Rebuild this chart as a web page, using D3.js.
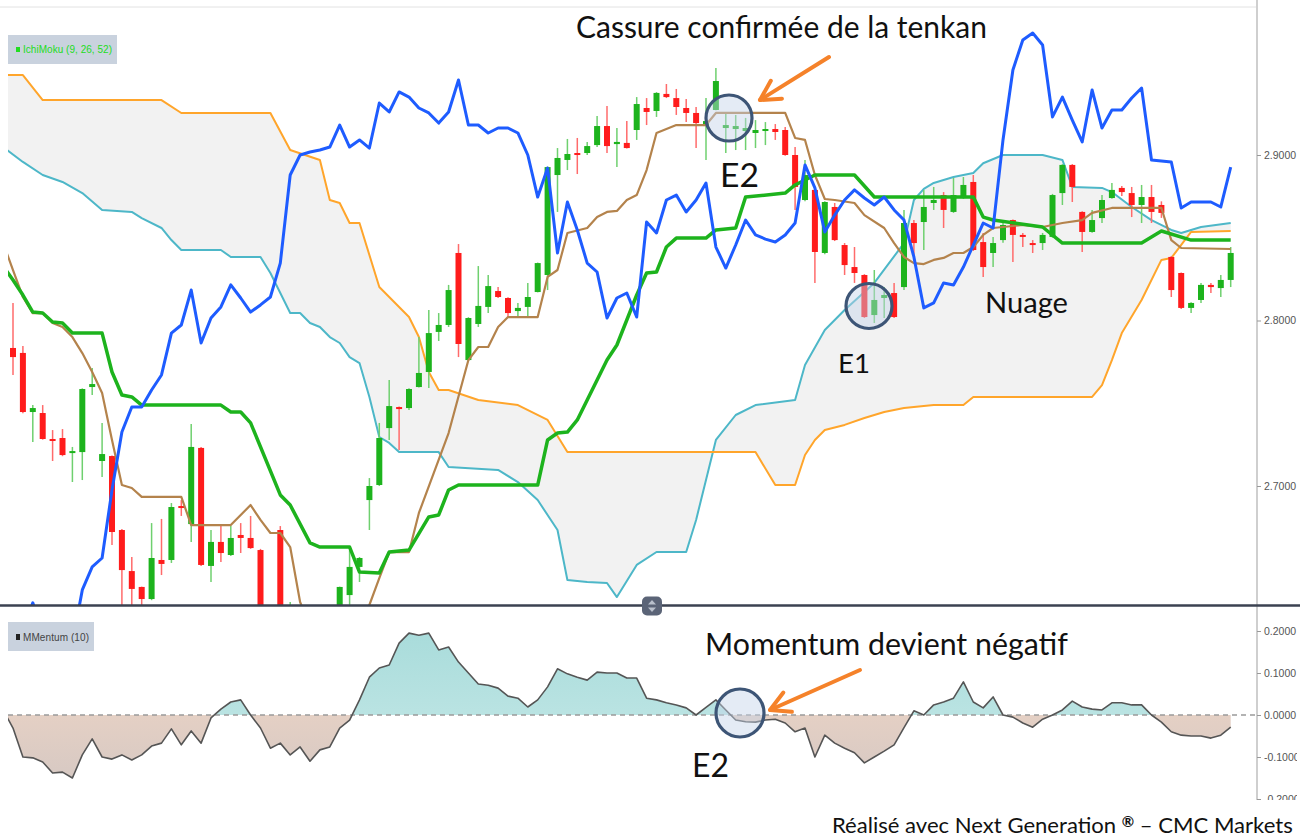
<!DOCTYPE html>
<html>
<head>
<meta charset="utf-8">
<script src="https://cdn.jsdelivr.net/npm/d3@7"></script>
<style>
  body { margin: 0; background: #fff; }
  svg { display: block; }
</style>
</head>
<body>
<div id="grafico"></div>
<script>
// ---------- DONNEES ----------
// bougies : index 0..123
var ouverture = [2.7834,2.7804,2.7447,2.7441,2.7284,2.7290,2.7199,2.7205,2.7598,2.7151,2.7181,2.6734,2.6486,2.6390,2.6317,2.6553,2.6553,2.6879,2.6770,2.7230,2.6517,2.6662,2.6583,2.6704,2.6686,2.6613,2.6120,2.6734,2.6150,2.6120,2.6180,2.6100,2.6170,2.6200,2.6341,2.6511,2.6915,2.7006,2.7350,2.7477,2.7471,2.7598,2.7689,2.7931,2.7973,2.8408,2.7761,2.7979,2.8082,2.8178,2.8136,2.8057,2.8082,2.8172,2.8275,2.8879,2.8970,2.9012,2.9012,2.9060,2.9175,2.9066,2.9073,2.9151,2.9284,2.9266,2.9369,2.9344,2.9284,2.9254,2.9175,2.9272,2.9163,2.9157,2.9145,2.9133,2.9145,2.9157,2.9151,2.9000,2.8728,2.8789,2.8408,2.8686,2.8456,2.8323,2.8275,2.8033,2.8136,2.8166,2.8202,2.8589,2.8595,2.8710,2.8758,2.8656,2.8740,2.8837,2.8474,2.8408,2.8486,2.8607,2.8517,2.8468,2.8468,2.8505,2.8770,2.8940,2.8656,2.8535,2.8619,2.8740,2.8801,2.8770,2.8698,2.8746,2.8698,2.8384,2.8287,2.8076,2.8124,2.8215,2.8196,2.8245];
var haut = [2.8106,2.7846,2.7489,2.7489,2.7338,2.7344,2.7236,2.7590,2.7713,2.7381,2.7185,2.6740,2.6571,2.6392,2.6776,2.6801,2.6897,2.6915,2.7375,2.7236,2.6734,2.6764,2.6758,2.6776,2.6819,2.6620,2.6200,2.6758,2.6299,2.6240,2.6220,2.6230,2.6270,2.6392,2.6613,2.6571,2.7048,2.7381,2.7640,2.7480,2.7590,2.7900,2.8063,2.8045,2.8215,2.8462,2.8020,2.8329,2.8275,2.8202,2.8140,2.8106,2.8227,2.8350,2.8930,2.9042,2.9097,2.9103,2.9079,2.9236,2.9296,2.9163,2.9205,2.9350,2.9344,2.9380,2.9429,2.9399,2.9338,2.9290,2.9344,2.9526,2.9254,2.9242,2.9224,2.9211,2.9199,2.9187,2.9169,2.9048,2.8970,2.8807,2.8720,2.8710,2.8468,2.8444,2.8280,2.8305,2.8202,2.8227,2.8668,2.8607,2.8789,2.8807,2.8776,2.8861,2.8867,2.8879,2.8529,2.8505,2.8590,2.8610,2.8529,2.8486,2.8529,2.8765,2.8945,2.8945,2.8660,2.8668,2.8758,2.8831,2.8813,2.8807,2.8819,2.8819,2.8720,2.8390,2.8290,2.8110,2.8227,2.8227,2.8275,2.8444];
var bas = [2.7671,2.7440,2.7266,2.7280,2.7151,2.7180,2.7024,2.7036,2.7550,2.7054,2.6644,2.6200,2.6200,2.6200,2.6310,2.6462,2.6535,2.6819,2.6662,2.6517,2.6420,2.6541,2.6577,2.6595,2.6620,2.6080,2.6000,2.6050,2.6100,2.6060,2.6040,2.6060,2.6120,2.6150,2.6282,2.6420,2.6734,2.7000,2.7278,2.7218,2.7459,2.7595,2.7592,2.7876,2.7961,2.7779,2.7755,2.7961,2.8045,2.8136,2.8015,2.8021,2.8021,2.8170,2.8184,2.8656,2.8909,2.8885,2.9000,2.9048,2.9012,2.8927,2.9040,2.9091,2.9181,2.9230,2.9344,2.9242,2.9199,2.9042,2.8970,2.9270,2.9012,2.9030,2.9030,2.9042,2.9060,2.9091,2.8995,2.8668,2.8720,2.8227,2.8400,2.8480,2.8275,2.8227,2.8015,2.7985,2.8015,2.8015,2.8184,2.8366,2.8426,2.8668,2.8559,2.8650,2.8735,2.8420,2.8263,2.8323,2.8470,2.8353,2.8444,2.8408,2.8426,2.8500,2.8698,2.8716,2.8414,2.8530,2.8589,2.8735,2.8752,2.8625,2.8589,2.8589,2.8620,2.8142,2.8070,2.8045,2.8106,2.8166,2.8142,2.8202];
var cloture = [2.7779,2.7447,2.7471,2.7284,2.7272,2.7187,2.7211,2.7586,2.7616,2.7193,2.6722,2.6492,2.6378,2.6317,2.6565,2.6529,2.6873,2.6867,2.7236,2.6523,2.6662,2.6595,2.6686,2.6686,2.6625,2.6150,2.6050,2.6150,2.6250,2.6200,2.6100,2.6180,2.6240,2.6390,2.6511,2.6565,2.7000,2.7290,2.7483,2.7471,2.7586,2.7683,2.7924,2.7973,2.8184,2.7858,2.8015,2.8088,2.8208,2.8142,2.8045,2.8076,2.8142,2.8347,2.8927,2.8982,2.9006,2.9000,2.9054,2.9175,2.9054,2.9079,2.9042,2.9308,2.9260,2.9375,2.9350,2.9290,2.9254,2.9193,2.9205,2.9447,2.9181,2.9175,2.9163,2.9151,2.9157,2.9139,2.9000,2.8807,2.8879,2.8414,2.8716,2.8486,2.8335,2.8287,2.8021,2.8124,2.8154,2.8021,2.8589,2.8468,2.8686,2.8728,2.8668,2.8758,2.8819,2.8426,2.8323,2.8468,2.8577,2.8517,2.8505,2.8456,2.8517,2.8758,2.8940,2.8807,2.8535,2.8607,2.8728,2.8789,2.8776,2.8698,2.8746,2.8656,2.8650,2.8184,2.8076,2.8106,2.8215,2.8202,2.8245,2.8408];

// lignes Ichimoku : [index, valeur] aux points de cassure
var senkouA = [[-1,2.9048],[1,2.8958],[3,2.8879],[5,2.8837],[7,2.8770],[9,2.8668],[12,2.8656],[13,2.8619],[15,2.8559],[16,2.8486],[17,2.8426],[21,2.8426],[22,2.8384],[25,2.8384],[26,2.8287],[28,2.8045],[29,2.8045],[30,2.7985],[31,2.7961],[32,2.7900],[33,2.7864],[34,2.7779],[35,2.7743],[36,2.7538],[37,2.7296],[38,2.7260],[39,2.7205],[43,2.7205],[44,2.7115],[49,2.7097],[51,2.7024],[53,2.6915],[55,2.6734],[56,2.6432],[58,2.6420],[60,2.6414],[61,2.6329],[63,2.6523],[65,2.6601],[68,2.6601],[69,2.6795],[71,2.7278],[73,2.7429],[75,2.7489],[79,2.7520],[80,2.7731],[82,2.7943],[84,2.8063],[87,2.8227],[90,2.8468],[91,2.8728],[92,2.8795],[93,2.8831],[95,2.8867],[97,2.8891],[98,2.8950],[100,2.9000],[104,2.9000],[106,2.8970],[107,2.8807],[110,2.8801],[111,2.8776],[113,2.8686],[115,2.8607],[117,2.8547],[118,2.8529],[120,2.8565],[123,2.8589]];
var senkouB = [[-1,2.9483],[1,2.9483],[3,2.9332],[15,2.9332],[17,2.9254],[26,2.9254],[28,2.9030],[31,2.8970],[32,2.8728],[33,2.8710],[34,2.8589],[35,2.8589],[37,2.8202],[38,2.8142],[40,2.8021],[41,2.7900],[42,2.7689],[43,2.7580],[44,2.7580],[47,2.7520],[51,2.7489],[54,2.7399],[56,2.7205],[75,2.7205],[77,2.7006],[79,2.7006],[80,2.7187],[81,2.7278],[82,2.7338],[84,2.7369],[86,2.7411],[88,2.7447],[90,2.7471],[93,2.7489],[96,2.7489],[97,2.7538],[109,2.7538],[110,2.7610],[111,2.7761],[112,2.7924],[114,2.8124],[116,2.8366],[117,2.8378],[119,2.8535],[123,2.8541]];
var tenkan = [[-1,2.8468],[0,2.8305],[1,2.8142],[2,2.8045],[3,2.8045],[4,2.7985],[5,2.7961],[6,2.7900],[7,2.7803],[8,2.7689],[9,2.7562],[10,2.7278],[11,2.7006],[12,2.6988],[13,2.6934],[17,2.6934],[18,2.6764],[22,2.6764],[24,2.6885],[25,2.6795],[26,2.6716],[27,2.6716],[28,2.6631],[29,2.6299],[30,2.6150],[34,2.6120],[36,2.6281],[37,2.6444],[38,2.6601],[40,2.6601],[41,2.6837],[44,2.7320],[46,2.7761],[47,2.7840],[48,2.7840],[49,2.7961],[50,2.8021],[53,2.8021],[54,2.8263],[55,2.8305],[56,2.8529],[58,2.8559],[59,2.8625],[60,2.8656],[61,2.8662],[62,2.8728],[63,2.8758],[64,2.8909],[65,2.9133],[67,2.9181],[70,2.9181],[71,2.9254],[78,2.9254],[79,2.9103],[80,2.9091],[81,2.8879],[82,2.8734],[83,2.8728],[85,2.8710],[86,2.8637],[88,2.8559],[89,2.8468],[90,2.8384],[91,2.8347],[92,2.8341],[93,2.8366],[94,2.8378],[95,2.8408],[96,2.8408],[97,2.8444],[98,2.8517],[99,2.8559],[102,2.8577],[104,2.8565],[106,2.8589],[108,2.8607],[109,2.8650],[111,2.8680],[116,2.8680],[117,2.8486],[118,2.8438],[123,2.8432]];
var kijun = [[-1,2.8329],[0,2.8245],[1,2.8154],[2,2.8051],[3,2.8045],[4,2.7991],[5,2.7985],[6,2.7924],[9,2.7924],[10,2.7689],[11,2.7550],[12,2.7538],[13,2.7489],[21,2.7489],[22,2.7447],[23,2.7447],[24,2.7381],[27,2.6946],[28,2.6885],[30,2.6656],[31,2.6631],[34,2.6631],[35,2.6480],[37,2.6474],[38,2.6601],[40,2.6613],[42,2.6813],[43,2.6825],[44,2.6976],[45,2.7006],[53,2.7006],[54,2.7278],[55,2.7320],[56,2.7326],[57,2.7399],[58,2.7520],[59,2.7640],[60,2.7761],[61,2.7852],[62,2.8003],[63,2.8154],[64,2.8287],[65,2.8293],[66,2.8444],[67,2.8498],[70,2.8498],[71,2.8547],[73,2.8559],[74,2.8746],[78,2.8770],[79,2.8819],[80,2.8849],[81,2.8879],[85,2.8879],[87,2.8746],[97,2.8746],[98,2.8625],[99,2.8607],[104,2.8565],[106,2.8468],[114,2.8468],[116,2.8541],[119,2.8486],[123,2.8486]];
// chikou : une valeur par index 0..123
var chikou = [2.600,2.612,2.6294,2.612,2.600,2.598,2.605,2.6372,2.6511,2.6565,2.6976,2.7326,2.7477,2.7477,2.7580,2.7671,2.7924,2.7973,2.8184,2.7864,2.8015,2.8082,2.8215,2.8136,2.8051,2.8094,2.8142,2.8347,2.8879,2.9000,2.9018,2.9030,2.9048,2.9181,2.9048,2.9091,2.9042,2.9314,2.9260,2.9381,2.9350,2.9284,2.9254,2.9193,2.9260,2.9453,2.9181,2.9181,2.9133,2.9163,2.9163,2.9133,2.9000,2.8746,2.8921,2.8408,2.8716,2.8547,2.8347,2.8293,2.8015,2.8136,2.8166,2.8021,2.8595,2.8529,2.8728,2.8758,2.8656,2.8728,2.8831,2.8444,2.8317,2.8456,2.8607,2.8517,2.8492,2.8474,2.8517,2.8589,2.8940,2.8801,2.8535,2.8637,2.8728,2.8789,2.8740,2.8698,2.8746,2.8668,2.8607,2.8384,2.8076,2.8106,2.8227,2.8215,2.8323,2.8456,2.8589,2.8559,2.9091,2.9514,2.9695,2.9737,2.9665,2.9230,2.9350,2.9211,2.9079,2.9393,2.9163,2.9272,2.9272,2.9344,2.9405,2.8970,2.8964,2.8958,2.8680,2.8716,2.8716,2.8716,2.8686,2.8927];
// momentum (10) : une valeur par index, a partir de -1
var momentumDebut = -1;
var momentum = [0.012,-0.031,-0.100,-0.102,-0.112,-0.138,-0.136,-0.150,-0.095,-0.057,-0.100,-0.105,-0.095,-0.107,-0.095,-0.074,-0.067,-0.033,-0.071,-0.038,-0.067,-0.007,0.014,0.031,0.036,0.000,-0.031,-0.079,-0.067,-0.095,-0.076,-0.110,-0.083,-0.076,-0.031,-0.012,0.036,0.090,0.112,0.119,0.171,0.195,0.190,0.195,0.155,0.162,0.126,0.100,0.074,0.071,0.064,0.045,0.040,0.019,0.036,0.067,0.110,0.098,0.090,0.083,0.102,0.100,0.100,0.088,0.088,0.040,0.036,0.029,0.024,0.017,0.000,0.018,0.036,0.012,-0.012,-0.016,-0.017,-0.012,-0.010,-0.019,-0.040,-0.031,-0.100,-0.048,-0.067,-0.079,-0.090,-0.114,-0.100,-0.086,-0.071,-0.030,0.010,0.000,0.024,0.031,0.040,0.079,0.031,0.017,0.043,0.000,-0.005,-0.019,-0.029,-0.010,0.000,0.012,0.033,0.019,0.014,0.012,0.029,0.029,0.024,0.024,0.000,-0.017,-0.040,-0.048,-0.050,-0.050,-0.055,-0.048,-0.029];

var ticksPrix = [2.7, 2.8, 2.9];
var ticksMom = [-0.2, -0.1, 0, 0.1, 0.2];

// ---------- DESSIN ----------
var W = 1307, H = 838;
var gauche = 8, droite = 1257;
var hautPrix = 8, basPrix = 605, hautMom = 607, basMom = 800;
var police = 'Lato, "Open Sans", sans-serif';

var svg = d3.select('#grafico').append('svg').attr('width', W).attr('height', H);
svg.append('rect').attr('width', W).attr('height', H).attr('fill', '#fff');

// ESCALAS
var x = d3.scaleLinear().domain([0, 123]).range([13, 13 + 9.9 * 123]);
var yPrix = d3.scaleLinear().domain([2.7, 2.9]).range([486, 155]);
var yMom = d3.scaleLinear().domain([-0.2, 0.2]).range([799, 631]);

var defs = svg.append('defs');
defs.append('clipPath').attr('id', 'clipPrix').append('rect')
    .attr('x', gauche).attr('y', hautPrix).attr('width', droite - gauche).attr('height', basPrix - hautPrix);
defs.append('clipPath').attr('id', 'clipPos').append('rect')
    .attr('x', gauche).attr('y', hautMom).attr('width', droite - gauche).attr('height', yMom(0) - hautMom);
defs.append('clipPath').attr('id', 'clipNeg').append('rect')
    .attr('x', gauche).attr('y', yMom(0)).attr('width', droite - gauche).attr('height', basMom - yMom(0));
defs.append('clipPath').attr('id', 'clipMom').append('rect')
    .attr('x', gauche).attr('y', hautMom).attr('width', droite - gauche).attr('height', basMom - hautMom);
defs.append('clipPath').attr('id', 'clipAxe').append('rect')
    .attr('x', droite - 5).attr('y', 0).attr('width', 1297 - droite + 5).attr('height', basMom);

var gradPos = defs.append('linearGradient').attr('id', 'gradPos').attr('x1', 0).attr('y1', 0).attr('x2', 0).attr('y2', 1);
gradPos.append('stop').attr('offset', '0%').attr('stop-color', '#a9dcdb');
gradPos.append('stop').attr('offset', '100%').attr('stop-color', '#c7e9e8');
var gradNeg = defs.append('linearGradient').attr('id', 'gradNeg').attr('x1', 0).attr('y1', 0).attr('x2', 0).attr('y2', 1);
gradNeg.append('stop').attr('offset', '0%').attr('stop-color', '#f6d9c6');
gradNeg.append('stop').attr('offset', '100%').attr('stop-color', '#d7c9c3');

// bordure haute et axe de droite
svg.append('line').attr('x1', 0).attr('x2', droite).attr('y1', 7).attr('y2', 7)
    .attr('stroke', '#e2e2e2').attr('stroke-width', 1);
svg.append('line').attr('x1', droite).attr('x2', droite).attr('y1', 0).attr('y2', basMom)
    .attr('stroke', '#cfcfcf').attr('stroke-width', 2);

// -------- PANNEAU ICHIMOKU --------
var gp = svg.append('g').attr('clip-path', 'url(#clipPrix)');
var ligne = d3.line().x(function (d) { return x(d[0]); }).y(function (d) { return yPrix(d[1]); });

// nuage : senkou A puis senkou B a l'envers
var pA = ligne(senkouA);
var pB = ligne(senkouB.slice().reverse());
gp.append('path').attr('d', pA + 'L' + pB.slice(1) + 'Z').attr('fill', '#f2f2f2');

gp.append('path').attr('d', ligne(senkouA)).attr('fill', 'none')
    .attr('stroke', '#4db7c8').attr('stroke-width', 2).attr('stroke-linejoin', 'round');
gp.append('path').attr('d', ligne(senkouB)).attr('fill', 'none')
    .attr('stroke', '#ffa52b').attr('stroke-width', 2).attr('stroke-linejoin', 'round');

// bougies
var bougies = gp.append('g').selectAll('g').data(d3.range(ouverture.length)).enter().append('g');
bougies.append('line')
    .attr('x1', function (i) { return x(i); }).attr('x2', function (i) { return x(i); })
    .attr('y1', function (i) { return yPrix(haut[i]); }).attr('y2', function (i) { return yPrix(bas[i]); })
    .attr('stroke', function (i) { return cloture[i] >= ouverture[i] ? '#6fd06f' : '#ff6b6b'; })
    .attr('stroke-width', 1.5);
bougies.append('rect')
    .attr('x', function (i) { return x(i) - 3; })
    .attr('width', 6)
    .attr('y', function (i) { return yPrix(Math.max(ouverture[i], cloture[i])); })
    .attr('height', function (i) { return Math.max(2, Math.abs(yPrix(ouverture[i]) - yPrix(cloture[i]))); })
    .attr('fill', function (i) { return cloture[i] >= ouverture[i] ? '#1db31d' : '#ff1c1c'; });

gp.append('path').attr('d', ligne(tenkan)).attr('fill', 'none')
    .attr('stroke', '#b4834c').attr('stroke-width', 2.2).attr('stroke-linejoin', 'round');
gp.append('path').attr('d', ligne(kijun)).attr('fill', 'none')
    .attr('stroke', '#1db31d').attr('stroke-width', 3.5).attr('stroke-linejoin', 'round');
gp.append('path').attr('d', ligne(chikou.map(function (v, i) { return [i, v]; }))).attr('fill', 'none')
    .attr('stroke', '#1e5cff').attr('stroke-width', 3).attr('stroke-linejoin', 'round');

// -------- PANNEAU MOMENTUM --------
var mData = momentum.map(function (v, k) { return [k + momentumDebut, v]; });
var aire = d3.area().x(function (d) { return x(d[0]); }).y0(yMom(0)).y1(function (d) { return yMom(d[1]); });
var lMom = d3.line().x(function (d) { return x(d[0]); }).y(function (d) { return yMom(d[1]); });
var gm = svg.append('g').attr('clip-path', 'url(#clipMom)');
gm.append('path').attr('d', aire(mData)).attr('fill', 'url(#gradPos)').attr('clip-path', 'url(#clipPos)');
gm.append('path').attr('d', aire(mData)).attr('fill', 'url(#gradNeg)').attr('clip-path', 'url(#clipNeg)');
gm.append('line').attr('x1', gauche).attr('x2', droite).attr('y1', yMom(0)).attr('y2', yMom(0))
    .attr('stroke', '#9a9a9a').attr('stroke-width', 1.5).attr('stroke-dasharray', '5,4');
gm.append('path').attr('d', lMom(mData)).attr('fill', 'none')
    .attr('stroke', '#555').attr('stroke-width', 1.6).attr('stroke-linejoin', 'round');

// -------- AXES A DROITE --------
var axes = svg.append('g').attr('clip-path', 'url(#clipAxe)');
var axePrix = axes.append('g').attr('transform', 'translate(' + droite + ',0)')
    .call(d3.axisRight(yPrix).tickValues(ticksPrix).tickFormat(d3.format('.4f')).tickSize(4).tickPadding(3));
var axeMom = axes.append('g').attr('transform', 'translate(' + droite + ',0)')
    .call(d3.axisRight(yMom).tickValues(ticksMom).tickFormat(function (d) { return d3.format('.4f')(d).replace('−', '-'); }).tickSize(4).tickPadding(3));
axes.selectAll('.domain').remove();
axes.selectAll('.tick line').attr('stroke', '#999');
axes.selectAll('.tick text').attr('fill', '#555').attr('font-size', 10.5)
    .attr('font-family', '"Liberation Sans", Arial, sans-serif');

// separateur
svg.append('line').attr('x1', 0).attr('x2', 1300).attr('y1', 605.5).attr('y2', 605.5)
    .attr('stroke', '#3b4251').attr('stroke-width', 2.5);
var poignee = svg.append('g').attr('transform', 'translate(652,606)');
poignee.append('rect').attr('x', -10).attr('y', -9.5).attr('width', 20).attr('height', 19).attr('rx', 5).attr('fill', '#5b6477');
poignee.append('path').attr('d', 'M-4,-1.5L0,-6L4,-1.5Z').attr('fill', '#b9c0cc');
poignee.append('path').attr('d', 'M-4,1.5L0,6L4,1.5Z').attr('fill', '#b9c0cc');

// legendes
var leg1 = svg.append('g');
leg1.append('rect').attr('x', 8).attr('y', 35).attr('width', 109).attr('height', 29).attr('fill', '#c9d2de');
leg1.append('rect').attr('x', 16).attr('y', 47).attr('width', 4).attr('height', 5).attr('fill', '#22dd22');
leg1.append('text').attr('x', 23).attr('y', 53).attr('font-size', 10).attr('fill', '#22dd22')
    .attr('font-family', '"Liberation Sans", Arial, sans-serif').attr('textLength', 89).text('IchiMoku (9, 26, 52)');
var leg2 = svg.append('g');
leg2.append('rect').attr('x', 8).attr('y', 622).attr('width', 86).attr('height', 29).attr('fill', '#c9d2de');
leg2.append('rect').attr('x', 16).attr('y', 634).attr('width', 4).attr('height', 6).attr('fill', '#222');
leg2.append('text').attr('x', 23).attr('y', 641).attr('font-size', 10).attr('fill', '#444')
    .attr('font-family', '"Liberation Sans", Arial, sans-serif').attr('textLength', 66).text('MMentum (10)');

// -------- ANNOTATIONS --------
function ajuster(t, largeur) {
    var l = t.node().getComputedTextLength();
    t.attr('font-size', parseFloat(t.attr('font-size')) * largeur / l);
}
function texte(s, x0, yb, largeur) {
    var t = svg.append('text').attr('x', x0).attr('y', yb).attr('font-size', 28)
        .attr('font-family', police).attr('fill', '#111').text(s);
    ajuster(t, largeur);
    return t;
}
function cercle(cx, cy, rx, ry) {
    svg.append('ellipse').attr('cx', cx).attr('cy', cy).attr('rx', rx).attr('ry', ry)
        .attr('fill', 'rgba(196,210,232,0.45)').attr('stroke', '#3d5576').attr('stroke-width', 3.2);
}
function fleche(x1, y1, x2, y2) {
    var a = Math.atan2(y1 - y2, x1 - x2), L = 22, o = 0.5;
    svg.append('line').attr('x1', x1).attr('y1', y1).attr('x2', x2).attr('y2', y2)
        .attr('stroke', '#f5822a').attr('stroke-width', 4).attr('stroke-linecap', 'round');
    svg.append('path')
        .attr('d', 'M' + (x2 + L * Math.cos(a - o)) + ',' + (y2 + L * Math.sin(a - o)) + 'L' + x2 + ',' + y2 +
            'L' + (x2 + L * Math.cos(a + o)) + ',' + (y2 + L * Math.sin(a + o)))
        .attr('fill', 'none').attr('stroke', '#f5822a').attr('stroke-width', 4)
        .attr('stroke-linecap', 'round').attr('stroke-linejoin', 'round');
}

cercle(729, 118, 23, 23);
cercle(869, 306, 23, 22.5);
cercle(740, 713, 24, 24);
fleche(829, 57, 760, 100);
fleche(860, 670, 770, 710);

texte('Cassure confirmée de la tenkan', 576, 38, 411);
texte('E2', 720, 187, 39);
texte('E1', 838, 373, 32);
texte('Nuage', 985, 313, 83);
texte('Momentum devient négatif', 705, 655, 363);
texte('E2', 692, 777, 37);

var pied = svg.append('text').attr('x', 832).attr('y', 833).attr('font-size', 19)
    .attr('font-family', police).attr('fill', '#111');
pied.append('tspan').text('Réalisé avec Next Generation ');
pied.append('tspan').attr('font-weight', 'bold').attr('dy', -6).attr('font-size', 15).text('®');
pied.append('tspan').attr('dy', 6).text(' – CMC Markets');
ajuster(pied, 463);
</script>
</body>
</html>
